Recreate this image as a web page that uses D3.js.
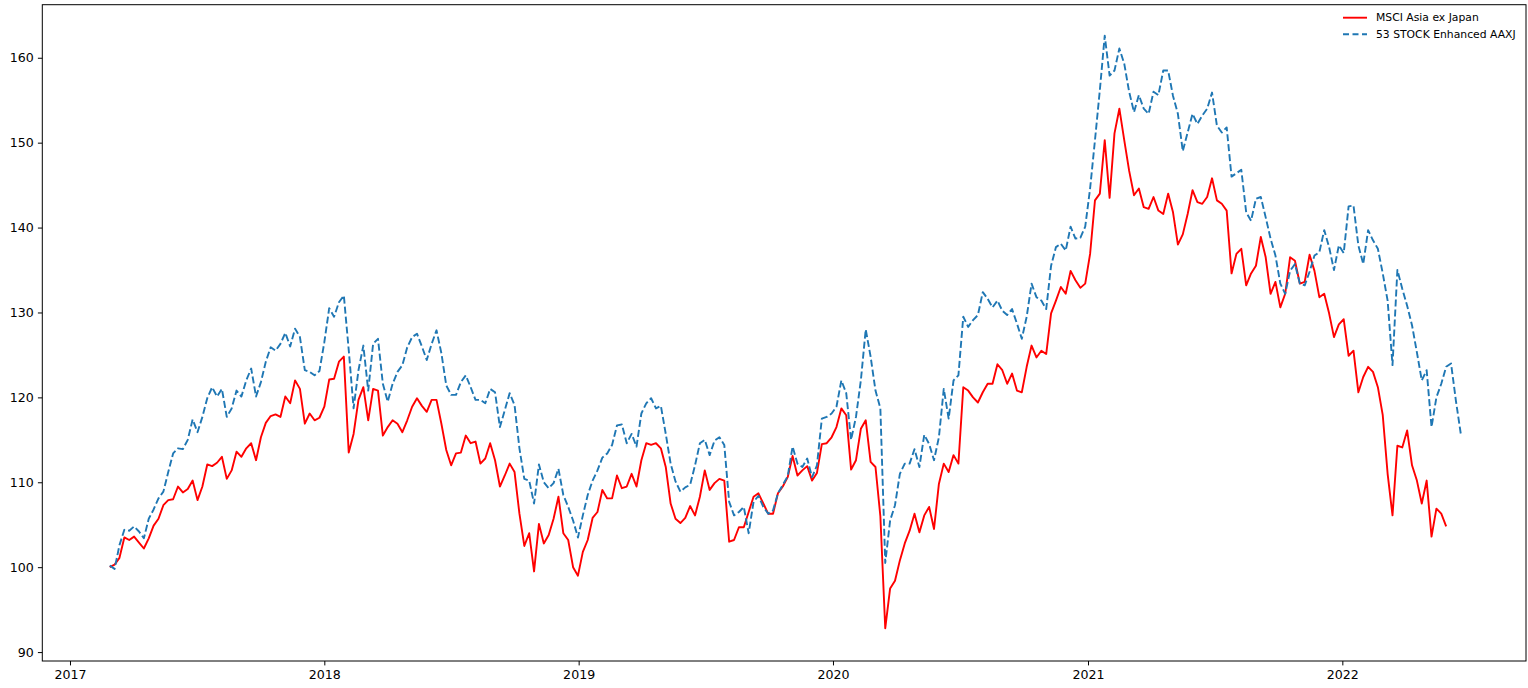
<!DOCTYPE html>
<html>
<head>
<meta charset="utf-8">
<script src="https://cdn.jsdelivr.net/npm/d3@7"></script>
<style>
  html, body { margin: 0; padding: 0; background: #fff; }
  svg { display: block; }
  text { font-family: "DejaVu Sans", sans-serif; fill: #000; }
</style>
</head>
<body>
<svg id="chart" width="1528" height="688"></svg>
<script>
// ---------------- data (weekly observations, starting 2017-02-27) ----------------
const seriesStart = "2017-02-27";
const stepDays = 7;

const msciAsiaExJapan = [
  100.0,100.3,101.1,103.5,103.2,103.6,102.9,102.2,103.4,104.9,
  105.7,107.3,107.9,108.0,109.5,108.8,109.2,110.2,107.9,109.5,
  112.1,111.9,112.3,113.0,110.4,111.4,113.6,113.0,114.0,114.6,
  112.6,115.3,117.0,117.8,118.0,117.7,120.1,119.3,122.0,121.0,
  116.9,118.1,117.3,117.6,118.9,122.1,122.2,124.2,124.8,113.5,
  115.7,119.7,121.2,117.3,121.0,120.8,115.5,116.5,117.3,116.9,
  115.9,117.3,118.9,119.9,119.0,118.3,119.7,119.7,116.9,113.8,
  112.0,113.4,113.5,115.5,114.6,114.8,112.2,112.8,114.6,112.6,
  109.5,110.8,112.2,111.2,106.3,102.5,104.0,99.5,105.1,102.8,
  103.8,105.7,108.3,104.0,103.2,100.0,99.0,101.8,103.2,105.8,
  106.5,109.1,108.1,108.1,110.8,109.3,109.5,111.0,109.5,112.6,
  114.6,114.4,114.6,114.0,111.8,107.5,105.7,105.2,105.8,107.2,
  106.1,108.3,111.4,109.1,109.9,110.4,110.2,103.0,103.2,104.7,
  104.7,106.5,108.3,108.7,107.5,106.3,106.3,108.7,109.5,110.6,
  113.1,110.8,111.4,111.9,110.2,111.1,114.5,114.6,115.3,116.5,
  118.7,117.9,111.5,112.6,116.3,117.3,112.4,111.8,106.0,92.8,
  97.5,98.4,100.8,102.8,104.3,106.3,104.1,106.1,107.1,104.5,
  109.8,112.2,111.2,113.2,112.2,121.2,120.8,120.0,119.4,120.6,
  121.6,121.6,123.9,123.2,121.6,122.8,120.8,120.6,123.6,126.1,
  124.7,125.5,125.1,129.9,131.4,133.0,132.2,134.9,133.8,132.9,
  133.4,136.9,143.2,144.0,150.3,143.5,151.1,154.0,150.3,146.7,
  143.8,144.6,142.4,142.2,143.6,142.0,141.6,144.0,141.8,138.0,
  139.2,141.6,144.4,143.0,142.8,143.6,145.8,143.2,142.8,142.0,
  134.6,136.9,137.5,133.2,134.6,135.5,138.9,136.5,132.2,133.6,
  130.6,132.2,136.5,136.1,133.4,133.6,136.8,134.9,131.8,132.2,
  129.9,127.1,128.6,129.2,124.9,125.5,120.6,122.4,123.6,123.0,
  121.2,117.9,111.0,106.1,114.3,114.1,116.1,112.0,110.2,107.5,
  110.2,103.6,106.9,106.3,104.8
];

const enhancedAAXJ = [
  100.2,99.8,102.6,104.4,104.3,104.8,104.2,103.4,105.7,106.8,
  108.1,108.9,111.2,113.4,114.0,113.9,115.0,117.4,115.9,117.7,
  119.9,121.2,120.1,121.0,117.7,118.7,120.8,120.1,122.0,123.4,
  120.1,121.8,124.2,125.9,125.5,126.3,127.6,126.0,128.1,127.1,
  123.2,123.0,122.6,123.1,126.5,130.5,129.5,131.2,132.0,125.6,
  118.7,123.2,126.1,120.8,126.3,126.9,121.6,119.5,121.6,123.0,
  123.8,125.9,127.1,127.5,126.0,124.4,126.3,127.9,125.2,121.4,
  120.3,120.3,121.8,122.6,121.2,119.7,119.7,119.3,121.0,120.6,
  116.5,118.5,120.5,119.1,114.0,110.4,110.2,107.5,112.1,110.0,
  109.3,109.9,111.6,108.5,107.1,105.5,103.5,106.1,108.5,110.2,
  111.4,112.9,113.4,114.4,116.7,116.8,114.6,115.7,114.2,118.1,
  119.3,119.9,118.7,119.0,115.7,112.2,110.1,108.9,109.4,109.7,
  112.0,114.6,115.0,113.2,114.9,115.3,114.4,107.7,106.1,106.5,
  107.1,104.0,107.7,108.4,107.1,106.3,106.7,108.7,109.7,110.7,
  114.2,112.2,111.8,112.8,110.6,112.0,117.5,117.7,118.1,118.9,
  122.0,120.5,115.0,117.7,122.0,128.0,124.8,120.8,118.7,100.5,
  105.5,107.3,111.0,112.2,112.2,113.9,111.8,115.6,114.5,112.6,
  115.3,121.0,117.5,122.0,122.6,129.5,128.3,129.1,129.7,132.4,
  131.6,130.6,131.4,130.2,129.7,130.4,128.7,126.9,129.5,133.4,
  131.8,131.4,130.4,135.5,137.7,138.1,137.3,140.1,138.7,138.8,
  140.1,144.6,150.3,156.2,162.6,157.9,158.5,161.1,159.3,156.0,
  153.6,155.6,154.0,153.4,156.0,155.6,158.5,158.5,155.5,153.4,
  149.0,151.2,153.4,152.2,153.2,154.0,155.9,152.0,151.2,151.8,
  146.0,146.4,146.8,141.8,140.8,143.4,143.6,141.2,138.7,136.7,
  133.4,132.2,134.9,135.7,133.4,133.2,134.8,136.7,137.1,139.7,
  137.7,135.0,137.9,137.0,142.5,142.6,137.9,135.7,139.7,138.5,
  137.5,134.6,131.4,123.8,135.0,132.8,130.8,128.5,125.3,122.0,
  123.2,116.5,120.0,121.6,123.6,124.0,119.6,115.7
];

const seriesNames = ["MSCI Asia ex Japan", "53 STOCK Enhanced AAXJ"];
const seriesColors = ["#ff0000", "#1f77b4"];
const xTickLabels = ["2017", "2018", "2019", "2020", "2021", "2022"];
const yTickValues = [90, 100, 110, 120, 130, 140, 150, 160];

// ---------------- layout ----------------
const W = 1528, H = 688;
const plot = { left: 42.3, right: 1526, top: 4.7, bottom: 661 };

const svg = d3.select("#chart");

const start = d3.isoParse(seriesStart + "T00:00:00Z");
const toPoints = vals => vals.map((v, i) => ({ date: d3.utcDay.offset(start, i * stepDays), value: v }));
const series = [toPoints(msciAsiaExJapan), toPoints(enhancedAAXJ)];

const x = d3.scaleUtc()
  .domain([new Date(Date.UTC(2016, 10, 22, 6)), new Date(Date.UTC(2022, 8, 21, 14))])
  .range([plot.left, plot.right]);
const y = d3.scaleLinear()
  .domain([88.95, 166.25])
  .range([plot.bottom, plot.top]);

// clip
svg.append("defs").append("clipPath").attr("id", "clip")
  .append("rect")
  .attr("x", plot.left).attr("y", plot.top)
  .attr("width", plot.right - plot.left).attr("height", plot.bottom - plot.top);

// lines
const line = d3.line().x(d => x(d.date)).y(d => y(d.value));
const g = svg.append("g").attr("clip-path", "url(#clip)");
g.append("path")
  .datum(series[0])
  .attr("d", line)
  .attr("fill", "none")
  .attr("stroke", seriesColors[0])
  .attr("stroke-width", 1.9)
  .attr("stroke-linejoin", "round")
  .attr("stroke-linecap", "butt");
g.append("path")
  .datum(series[1])
  .attr("d", line)
  .attr("fill", "none")
  .attr("stroke", seriesColors[1])
  .attr("stroke-width", 1.9)
  .attr("stroke-dasharray", "7,3")
  .attr("stroke-linejoin", "round")
  .attr("stroke-linecap", "butt");

// axes
const tickFont = 12.6;
const xTicks = xTickLabels.map(s => new Date(Date.UTC(+s, 0, 1)));
const xAxis = d3.axisBottom(x)
  .tickValues(xTicks)
  .tickFormat((d, i) => xTickLabels[i])
  .tickSize(4.4).tickPadding(4.2);
const yAxis = d3.axisLeft(y)
  .tickValues(yTickValues)
  .tickFormat(d3.format("d"))
  .tickSize(4.4).tickPadding(4.2);

const gx = svg.append("g").attr("transform", `translate(0,${plot.bottom})`).call(xAxis);
const gy = svg.append("g").attr("transform", `translate(${plot.left},0)`).call(yAxis);
[gx, gy].forEach(a => {
  a.select(".domain").remove();
  a.selectAll(".tick line").attr("stroke", "#000").attr("stroke-width", 1);
  a.selectAll(".tick text")
    .attr("font-family", "DejaVu Sans, sans-serif")
    .attr("font-size", tickFont)
    .attr("fill", "#000");
});

// spines
svg.append("rect")
  .attr("x", plot.left).attr("y", plot.top)
  .attr("width", plot.right - plot.left).attr("height", plot.bottom - plot.top)
  .attr("fill", "none").attr("stroke", "#000").attr("stroke-width", 1);

// legend
const legendFont = 10.8;
const leg = svg.append("g");
const legRows = [17.7, 34.3];
seriesNames.forEach((name, i) => {
  leg.append("line")
    .attr("x1", 1343).attr("x2", 1367)
    .attr("y1", legRows[i]).attr("y2", legRows[i])
    .attr("stroke", seriesColors[i])
    .attr("stroke-width", 1.9)
    .attr("stroke-dasharray", i === 1 ? "6,3.5" : null);
  leg.append("text")
    .attr("x", 1376).attr("y", legRows[i])
    .attr("dy", "0.35em")
    .attr("font-size", legendFont)
    .text(name);
});
</script>
</body>
</html>
